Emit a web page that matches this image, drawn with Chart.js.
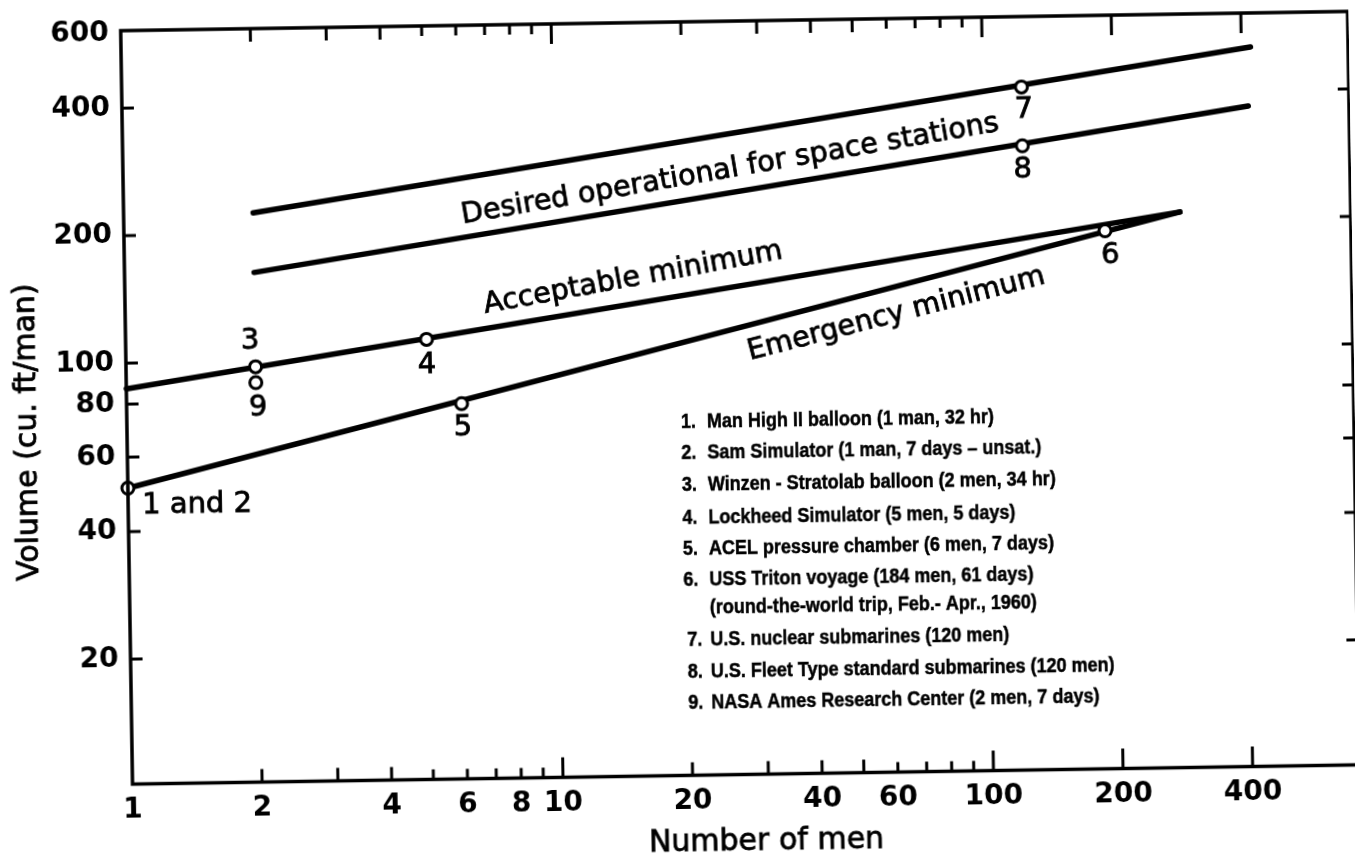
<!DOCTYPE html>
<html>
<head>
<meta charset="utf-8">
<title>Volume per man vs number of men</title>
<script src="https://cdn.jsdelivr.net/npm/chart.js@4.4.1/dist/chart.umd.min.js"></script>
<style>
  html, body { margin: 0; padding: 0; background: #fff; overflow: hidden; }
  /* the scanned figure sits slightly tilted on the page */
  #wrap { width: 1355px; height: 856px; transform: rotate(-0.9deg); transform-origin: 50% 50%; }
  canvas { display: block; }
</style>
</head>
<body>
<div id="wrap"><canvas id="chart" width="1355" height="856"></canvas></div>
<script>
// Axis ticks
const xTickLabels = [1, 2, 4, 6, 8, 10, 20, 40, 60, 100, 200, 400];
const xMinorTicks = [2, 3, 4, 5, 6, 7, 8, 9, 10, 20, 30, 40, 50, 60, 70, 80, 90, 100, 200, 400];
const yTickLabels = [20, 40, 60, 80, 100, 200, 400, 600];
const yMinorTicks = [20, 40, 60, 80, 100, 200, 400];

// Lines (men, cu.ft/man)
const desiredMen = [2, 420];
const desiredVol = [224, 507];
const stationMen = [2, 413];
const stationVol = [162, 368];
const acceptMen = [1, 284];
const acceptVol = [87, 208];
const emergMen = [1, 284];
const emergVol = [50.7, 208];

// Experience points
const pointIds = ['1 and 2', '3', '9', '4', '5', '6', '7', '8'];
const pointMen = [1, 2, 2, 5, 6, 190, 123, 123];
const pointVol = [50.7, 97, 89, 111, 78, 189, 416, 302];

// Key
const keyNums = ['1.', '2.', '3.', '4.', '5.', '6.', '', '7.', '8.', '9.'];
const keyTexts = [
  'Man High II balloon (1 man, 32 hr)',
  'Sam Simulator (1 man, 7 days \u2013 unsat.)',
  'Winzen - Stratolab balloon (2 men, 34 hr)',
  'Lockheed Simulator (5 men, 5 days)',
  'ACEL pressure chamber (6 men, 7 days)',
  'USS Triton voyage (184 men, 61 days)',
  '(round-the-world trip, Feb.- Apr., 1960)',
  'U.S. nuclear submarines (120 men)',
  'U.S. Fleet Type standard submarines (120 men)',
  'NASA Ames Research Center (2 men, 7 days)'
];

const FONT = '"DejaVu Sans", sans-serif';
Chart.defaults.font.family = FONT;
Chart.defaults.color = '#000';

function toXY(xs, ys) {
  return xs.map((x, i) => ({ x: x, y: ys[i] }));
}

function lineSet(xs, ys) {
  return {
    data: toXY(xs, ys),
    showLine: true,
    borderColor: '#000',
    borderWidth: 5.5,
    borderCapStyle: 'round',
    pointRadius: 0,
    clip: false
  };
}

// label placement relative to each point (px)
const tagOffsets = [[14, 18, 'left'], [-5, -26, 'center'], [2, 25, 'center'], [0, 26, 'center'],
  [1, 24, 'center'], [5, 25, 'center'], [2, 23, 'center'], [0, 24, 'center']];

// text set along the lines: [text, x, y, angle deg]
const lineLabels = [
  ['Desired operational for space stations', 466, 220, -8.9],
  ['Acceptable minimum', 487, 310, -9.5],
  ['Emergency minimum', 751, 361, -13.6]
];

function tickLen(v) {
  if (v === 10 || v >= 100) return 20;
  if ((v > 4 && v < 10) || (v > 50 && v < 100)) return 10;
  return 13;
}

function inkText(ctx, t, x, y) {
  ctx.fillText(t, x, y);
  ctx.strokeText(t, x, y);
}

const framePlugin = {
  id: 'frame',
  afterDatasetsDraw(chart) {
    const ctx = chart.ctx;
    const area = chart.chartArea;
    const xs = chart.scales.x;
    const ys = chart.scales.y;
    ctx.save();
    ctx.strokeStyle = '#000';
    ctx.fillStyle = '#000';
    ctx.lineWidth = 3.5;
    ctx.strokeRect(area.left, area.top, area.right - area.left, area.bottom - area.top);

    // inward ticks
    ctx.lineWidth = 3;
    ctx.beginPath();
    xMinorTicks.forEach(v => {
      const px = xs.getPixelForValue(v);
      const len = tickLen(v);
      ctx.moveTo(px, area.bottom);
      ctx.lineTo(px, area.bottom - len);
      ctx.moveTo(px, area.top);
      ctx.lineTo(px, area.top + len);
    });
    yMinorTicks.forEach(v => {
      const py = ys.getPixelForValue(v);
      ctx.moveTo(area.left, py);
      ctx.lineTo(area.left + 12, py);
      ctx.moveTo(area.right, py);
      ctx.lineTo(area.right - 11, py);
    });
    ctx.stroke();

    ctx.lineWidth = 0.8;

    // point tags
    ctx.font = '29px ' + FONT;
    ctx.textBaseline = 'middle';
    pointIds.forEach((t, i) => {
      const px = xs.getPixelForValue(pointMen[i]);
      const py = ys.getPixelForValue(pointVol[i]);
      const off = tagOffsets[i];
      ctx.textAlign = off[2];
      inkText(ctx, t, px + off[0], py + off[1]);
    });

    // line names
    ctx.font = '28.6px ' + FONT;
    ctx.textAlign = 'left';
    ctx.textBaseline = 'alphabetic';
    lineLabels.forEach(l => {
      ctx.save();
      ctx.translate(l[1], l[2]);
      ctx.rotate(l[3] * Math.PI / 180);
      inkText(ctx, l[0], 0, 0);
      ctx.restore();
    });

    // key
    ctx.font = 'bold 20px "Liberation Sans", sans-serif';
    ctx.textBaseline = 'middle';
    ctx.lineWidth = 0.5;
    const keyY = [422, 453, 485, 518, 549, 580, 608, 640, 672, 703];
    keyTexts.forEach((t, i) => {
      const nx = i < 7 ? 681 : 684;
      ctx.save();
      ctx.translate(nx, keyY[i]);
      ctx.scale(0.9, 1);
      if (keyNums[i]) inkText(ctx, keyNums[i], 0, 0);
      inkText(ctx, t, (707 - nx) / 0.9, 0);
      ctx.restore();
    });

    // axis titles
    ctx.lineWidth = 0.8;
    ctx.font = '30px ' + FONT;
    ctx.textAlign = 'center';
    inkText(ctx, 'Number of men', 760, 843);
    ctx.save();
    ctx.translate(28, 422);
    ctx.rotate(-Math.PI / 2);
    inkText(ctx, 'Volume (cu. ft/man)', 0, 0);
    ctx.restore();
    ctx.restore();
  }
};

new Chart(document.getElementById('chart'), {
  type: 'scatter',
  data: {
    datasets: [
      {
        data: toXY(pointMen, pointVol),
        pointRadius: 6,
        pointBorderWidth: 3,
        pointBackgroundColor: '#fff',
        pointBorderColor: '#000',
        clip: false
      },
      lineSet(desiredMen, desiredVol),
      lineSet(stationMen, stationVol),
      lineSet(acceptMen, acceptVol),
      lineSet(emergMen, emergVol)
    ]
  },
  options: {
    responsive: false,
    animation: false,
    layout: { autoPadding: false, padding: { top: 22, right: 1, left: 0, bottom: 0 } },
    plugins: {
      legend: { display: false },
      tooltip: { enabled: false }
    },
    scales: {
      x: {
        type: 'logarithmic',
        min: 1,
        max: 708,
        afterFit: s => { s.height = 80.5; s.paddingLeft = 0; s.paddingRight = 0; },
        afterBuildTicks: s => { s.ticks = xTickLabels.map(v => ({ value: v })); },
        grid: { display: false, drawTicks: false },
        border: { display: false },
        ticks: {
          autoSkip: false,
          maxRotation: 0,
          padding: 9,
          font: { size: 28, weight: 'bold' },
          callback: v => String(v)
        }
      },
      y: {
        type: 'logarithmic',
        min: 10.14,
        max: 610,
        afterFit: s => { s.width = 127; s.paddingTop = 0; s.paddingBottom = 0; },
        afterBuildTicks: s => { s.ticks = yTickLabels.map(v => ({ value: v })); },
        grid: { display: false, drawTicks: false },
        border: { display: false },
        ticks: {
          padding: 12,
          font: { size: 28, weight: 'bold' },
          callback: v => String(v)
        }
      }
    }
  },
  plugins: [framePlugin]
});
</script>
</body>
</html>
